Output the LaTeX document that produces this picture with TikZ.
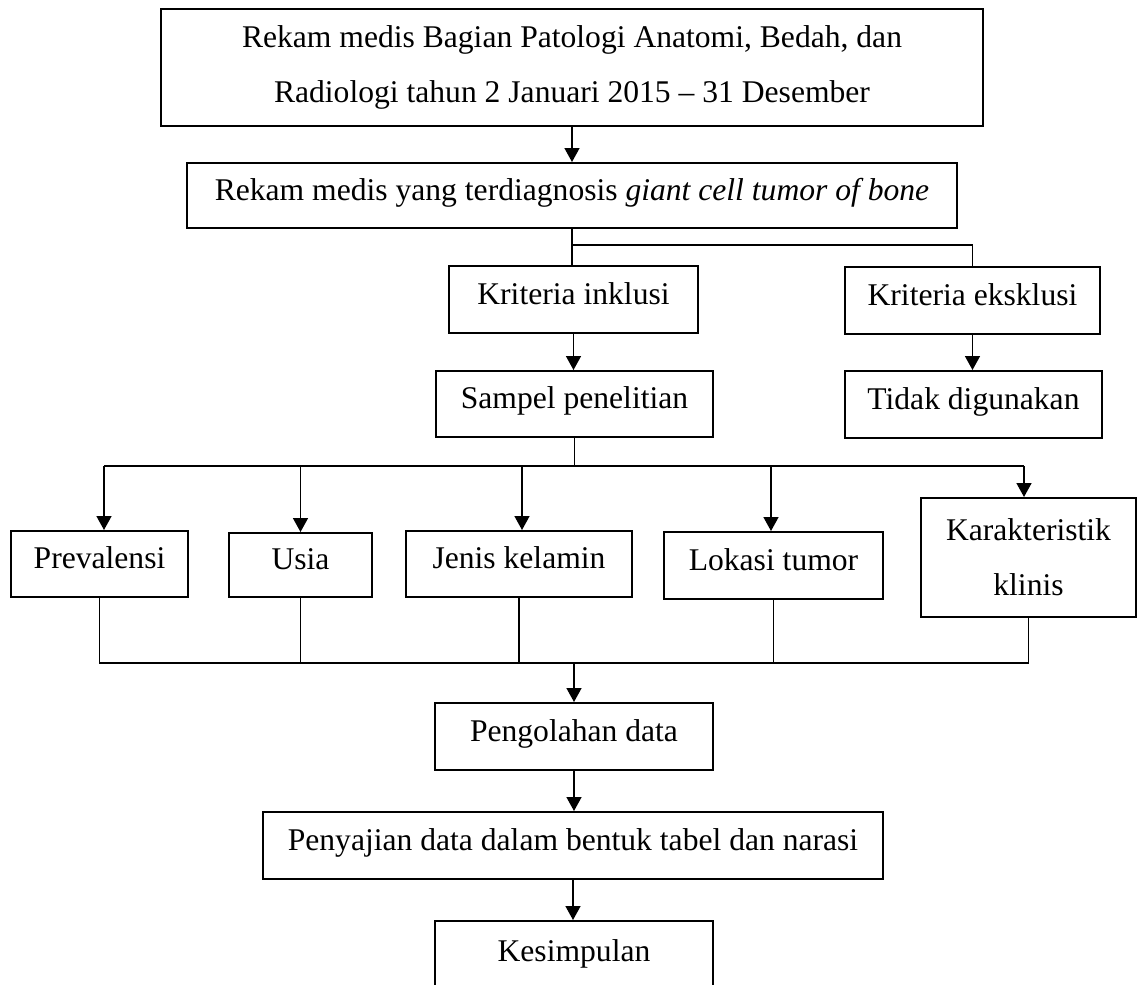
\documentclass[tikz,border=0pt]{standalone}
\usepackage{fontspec}
\setmainfont{Liberation Serif}
\usetikzlibrary{arrows.meta}
\begin{document}
\begin{tikzpicture}[x=0.5pt,y=-0.5pt,
  box/.style={draw, line width=1pt, inner sep=0pt, font=\fontsize{15.8}{27.5}\selectfont, align=center},
  one/.style={text height=0.7em, text depth=0.25em},
  conn/.style={line width=0.8pt},
  arr/.style={conn, -{Triangle[length=7pt,width=7.5pt]}}]
\useasboundingbox (0,0) rectangle (1137,985);
\clip (0,0) rectangle (1137,985);
\fill[white] (0,0) rectangle (1137,985);

\node[box, minimum width=411pt, minimum height=58.5pt] (b1) at (572,67.5)
  {Rekam medis Bagian Patologi Anatomi, Bedah, dan\\Radiologi tahun 2 Januari 2015 \textendash{} 31 Desember};
\node[box, one, minimum width=385pt, minimum height=32.5pt] (b2) at (572,195.5)
  {Rekam medis yang terdiagnosis \textit{giant cell tumor of bone}};
\node[box, one, minimum width=124.5pt, minimum height=33.5pt] (inkl) at (573.5,299.5) {Kriteria inklusi};
\node[box, one, minimum width=127.5pt, minimum height=33.5pt] (eksk) at (972.5,300.5) {Kriteria eksklusi};
\node[box, one, minimum width=138.5pt, minimum height=33pt] (sampel) at (574.5,404) {Sampel penelitian};
\node[box, one, minimum width=128.5pt, minimum height=33.5pt] (tidak) at (973.5,404.5) {Tidak digunakan};
\node[box, one, minimum width=88.5pt, minimum height=33pt] (prev) at (99.5,564) {Prevalensi};
\node[box, one, minimum width=71.5pt, minimum height=32pt] (usia) at (300.5,565) {Usia};
\node[box, one, minimum width=113pt, minimum height=33pt] (jenis) at (519,564) {Jenis kelamin};
\node[box, one, minimum width=109.5pt, minimum height=33.5pt] (lokasi) at (773.5,565.5) {Lokasi tumor};
\node[box, minimum width=107.5pt, minimum height=59.5pt] (kar) at (1028.5,557.5) {Karakteristik\\klinis};
\node[box, one, minimum width=139pt, minimum height=33.5pt] (peng) at (574,736.5) {Pengolahan data};
\node[box, one, minimum width=310pt, minimum height=33.5pt] (peny) at (573,845.5) {Penyajian data dalam bentuk tabel dan narasi};
\node[box, minimum width=139pt, text height=20pt, text depth=30pt, anchor=north] (kes) at (574,920) {Kesimpulan};

% top part
\draw[arr] (b1.south) -- (b2.north);
\coordinate (j1) at (573,245);
\draw[conn] (b2.south) -- (b2.south |- inkl.north);
\draw[conn] (b2.south |- j1) -| (eksk.north);
\draw[arr] (inkl.south) -- (inkl.south |- sampel.north);
\draw[arr] (eksk.south) -- (eksk.south |- tidak.north);

% distribution bus
\coordinate (busL) at (104,466);
\coordinate (busR) at (1024,466);
\draw[conn] (sampel.south) -- (sampel.south |- busL);
\draw[conn] (busL) -- (busR);
\draw[arr] (busL) -- (busL |- prev.north);
\draw[arr] (usia.north |- busL) -- (usia.north);
\draw[arr] ([xshift=1.5pt]jenis.north |- busL) -- ([xshift=1.5pt]jenis.north);
\draw[arr] ([xshift=-1.25pt]lokasi.north |- busL) -- ([xshift=-1.25pt]lokasi.north);
\draw[arr] (busR) -- (busR |- kar.north);

% collecting bus
\coordinate (botR) at (1028.5,663);
\draw[conn] (prev.south) |- (botR) -- (kar.south);
\draw[conn] (usia.south) -- (usia.south |- botR);
\draw[conn] (jenis.south) -- (jenis.south |- botR);
\draw[conn] (lokasi.south) -- (lokasi.south |- botR);
\draw[arr] (peng.north |- botR) -- (peng.north);
\draw[arr] (peng.south) -- (peng.south |- peny.north);
\draw[arr] (peny.south) -- (peny.south |- kes.north);
\end{tikzpicture}
\end{document}
